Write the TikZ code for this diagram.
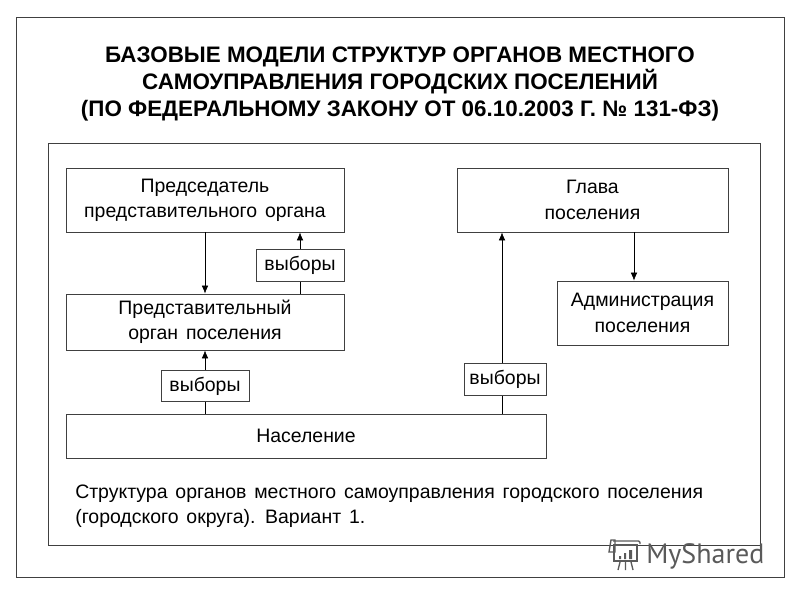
\documentclass[tikz,border=0pt]{standalone}
\usepackage{fontspec}
\setmainfont{Liberation Sans}
\newfontfamily\bodyfamily[WordSpace=1.45]{Liberation Sans}
\newfontfamily\markfont{PT Sans}
\usetikzlibrary{arrows.meta}
\usetikzlibrary{positioning}
\usetikzlibrary{calc}
\definecolor{framegray}{HTML}{404040}
\definecolor{markgray}{HTML}{5A5A5A}
\tikzset{
	bodyfont/.style={font=\bodyfamily\fontsize{14.6}{19}\selectfont},
	orgbox/.style={draw=framegray, line width=0.6pt, fill=white, align=center, inner sep=0pt, bodyfont},
	votebox/.style={orgbox, minimum height=23.5pt},
	link/.style={draw=black, line width=0.5pt},
	linkarrow/.style={link, -{Latex[length=6pt,width=5pt]}},
}
\begin{document}
\begin{tikzpicture}[x=0.75pt, y=-0.75pt]
	\useasboundingbox (0,0) rectangle (800,600);
	% draw frames
	\node[draw=framegray, line width=0.8pt, minimum width=576.5pt, minimum height=420.5pt, inner sep=0pt] (outer) at (400.5,297.5) {};
	\node[draw=framegray, line width=0.6pt, minimum width=534pt, minimum height=302pt, inner sep=0pt] (inner) at (404,344.5) {};
	% title
	\node[align=center, inner sep=0pt, font=\fontsize{16.8}{20.2}\selectfont\bfseries] (title) at (400,84) {БАЗОВЫЕ МОДЕЛИ СТРУКТУР ОРГАНОВ МЕСТНОГО\\САМОУПРАВЛЕНИЯ ГОРОДСКИХ ПОСЕЛЕНИЙ\\(ПО ФЕДЕРАЛЬНОМУ ЗАКОНУ ОТ 06.10.2003 Г. № 131-ФЗ)};
	% draw boxes
	\node[orgbox, minimum width=208.5pt, minimum height=48pt] (chair) at (205,200) {\vphantom{р}Председатель\\представительного органа};
	\node[orgbox, minimum width=203.25pt, minimum height=48pt] (head) at (592.5,200) {Глава\\поселения};
	\node[orgbox, minimum width=208.5pt, minimum height=42pt] (council) at (205,322) {Представительный\hspace{3pt}\\орган поселения};
	\node[orgbox, minimum width=128.25pt, minimum height=48pt] (admin) at (642.5,313) {Администрация\\поселения};
	\node[orgbox, minimum width=360pt, minimum height=33pt] (people) at (306,436) {Население};
	\node[votebox, minimum width=66pt] (voteA) at (300,265.5) {выборы};
	\node[votebox, minimum width=66pt] (voteB) at (205,386) {выборы};
	\node[votebox, minimum width=61.5pt] (voteC) at (505,379.5) {выборы};
	% draw connectors
	\coordinate (headout) at (634,232);
	\draw[linkarrow] (chair) -- (council);
	\draw[link] (council.north -| voteA) -- (voteA);
	\draw[linkarrow] (voteA) -- (chair.south -| voteA);
	\draw[link] (people.north -| voteB) -- (voteB);
	\draw[linkarrow] (voteB) -- (council);
	\draw[link] (people.north -| 502,0) -- (voteC.south -| 502,0);
	\draw[linkarrow] (voteC.north -| 502,0) -- (head.south -| 502,0);
	\draw[linkarrow] (headout) -- (admin.north -| headout);
	% caption
	\node[anchor=north west, align=left, inner sep=0pt, bodyfont] (caption) at (75,484.5) {Структура органов местного самоуправления городского поселения\\(городского округа). Вариант 1.};
	% watermark
	\node[anchor=base west, inner sep=0pt, text=markgray, font=\markfont\fontsize{21}{21}\selectfont] (mark) at (646,563) {MyShared};
	\draw[markgray, line width=1pt, rounded corners=1pt] (613,541) -- (640,541) -- (640,544);
	\draw[markgray, line width=1pt, fill=white] (614,545) rectangle (637,561);
	\draw[markgray, line width=1pt] (609,552) -- (611,540) -- (615,540) -- (615,552) -- cycle;
	\fill[markgray] (619,556) rectangle (621,559) (624,553) rectangle (626,559) (629,550) rectangle (632,559);
	\draw[markgray, line width=1pt] (620,562) -- (618,570) (625.5,562) -- (625.5,570) (631,562) -- (633,570);
\end{tikzpicture}
\end{document}
